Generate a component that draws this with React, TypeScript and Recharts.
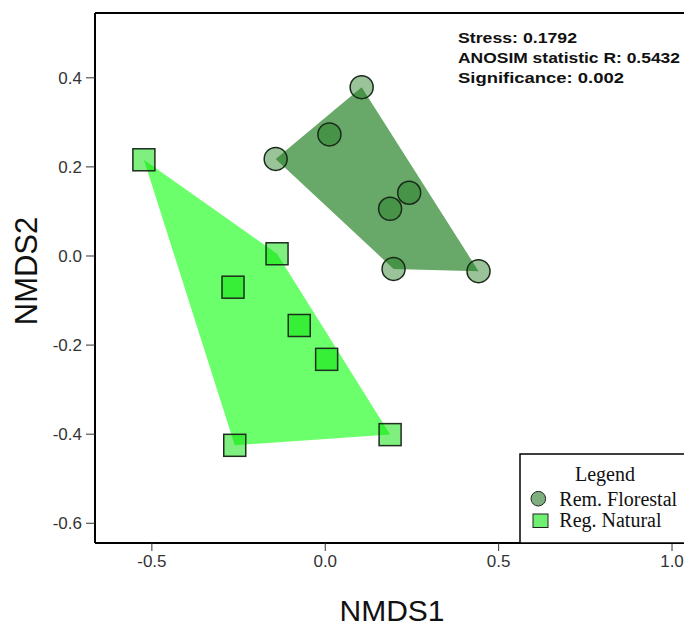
import React from 'react';
import { ScatterChart, Scatter, XAxis, YAxis, ReferenceLine } from 'recharts';

// Rem. Florestal (circles)
const remX = [0.105, 0.012, -0.143, 0.242, 0.187, 0.197, 0.442];
const remY = [0.379, 0.273, 0.218, 0.142, 0.106, -0.029, -0.034];
const remHull = [0, 6, 5, 2];
// Reg. Natural (squares)
const regX = [-0.523, -0.139, -0.266, -0.075, 0.004, -0.261, 0.187];
const regY = [0.216, 0.005, -0.07, -0.156, -0.232, -0.425, -0.401];
const regHull = [0, 1, 6, 5];

const xTicks = [-0.5, 0, 0.5, 1.0];
const yTicks = [-0.6, -0.4, -0.2, 0, 0.2, 0.4];
const xDomain = [-0.664, 1.098];
const yDomain = [-0.6443, 0.5455];

const statLines = ['Stress: 0.1792', 'ANOSIM statistic R: 0.5432', 'Significance: 0.002'];
const legendTitle = 'Legend';
const seriesNames = ['Rem. Florestal', 'Reg. Natural'];

const remData = remX.map((x, i) => ({ x, y: remY[i] }));
const regData = regX.map((x, i) => ({ x, y: regY[i] }));
const remHullData = remHull.map((i) => remData[i]);
const regHullData = regHull.map((i) => regData[i]);

const hullLine = (fill: string) => (p: any) => {
  const pts = (p.points || []) as { x: number; y: number }[];
  const d = pts.map((q, i) => `${i === 0 ? 'M' : 'L'}${q.x},${q.y}`).join(' ') + ' Z';
  return <path d={d} fill={fill} stroke="none" />;
};
const noShape = () => <g />;

const circleShape = (p: any) => (
  <circle cx={p.cx} cy={p.cy} r={11.5} fill="#1e7a1e" fillOpacity={0.45} stroke="#1a2a1a" strokeWidth={1.5} />
);
const squareShape = (p: any) => (
  <rect x={p.cx - 11} y={p.cy - 11} width={22} height={22} fill="#00e000" fillOpacity={0.5} stroke="#1e2e1e" strokeWidth={1.5} />
);

const sans = '"Liberation Sans", Arial, sans-serif';
const serif = '"Liberation Serif", "Times New Roman", serif';
const tickStyle = { fontSize: 17, fill: '#333', fontFamily: sans };

export default function App() {
  return (
    <div style={{ position: 'fixed', left: 0, top: 0, width: 684, height: 628, overflow: 'hidden', background: '#fff' }}>
      <ScatterChart width={720} height={628} margin={{ top: 13, right: 14, bottom: 45, left: 0 }}>
        <XAxis
          type="number"
          dataKey="x"
          domain={xDomain}
          ticks={xTicks}
          allowDataOverflow
          tickFormatter={(v: number) => v.toFixed(1)}
          axisLine={{ stroke: '#000', strokeWidth: 2 }}
          tickLine={{ stroke: '#333' }}
          tickSize={8}
          tickMargin={4}
          tick={tickStyle}
          height={40}
        />
        <YAxis
          type="number"
          dataKey="y"
          domain={yDomain}
          ticks={yTicks}
          allowDataOverflow
          tickFormatter={(v: number) => v.toFixed(1)}
          axisLine={{ stroke: '#000', strokeWidth: 2 }}
          tickLine={{ stroke: '#333' }}
          tickSize={9}
          tickMargin={4}
          tick={tickStyle}
          width={95}
        />
        <ReferenceLine y={yDomain[1]} stroke="#000" strokeWidth={2} ifOverflow="visible" />
        <Scatter data={remHullData} line={hullLine('#68a868')} lineType="joint" shape={noShape} isAnimationActive={false} />
        <Scatter data={regHullData} line={hullLine('#6cff6c')} lineType="joint" shape={noShape} isAnimationActive={false} />
        <Scatter name={seriesNames[0]} data={remData} shape={circleShape} isAnimationActive={false} />
        <Scatter name={seriesNames[1]} data={regData} shape={squareShape} isAnimationActive={false} />
      </ScatterChart>
      <svg width={684} height={628} style={{ position: 'absolute', left: 0, top: 0, pointerEvents: 'none' }}>
        <text x={458} y={42.7} fontFamily={sans} fontWeight="bold" fontSize={15} fill="#111" textLength={119} lengthAdjust="spacingAndGlyphs">{statLines[0]}</text>
        <text x={458} y={62.5} fontFamily={sans} fontWeight="bold" fontSize={15} fill="#111" textLength={222} lengthAdjust="spacingAndGlyphs">{statLines[1]}</text>
        <text x={458} y={82.7} fontFamily={sans} fontWeight="bold" fontSize={15} fill="#111" textLength={166} lengthAdjust="spacingAndGlyphs">{statLines[2]}</text>
        <text transform="translate(37,271) rotate(-90)" textAnchor="middle" fontFamily={sans} fontSize={31} fill="#111">NMDS2</text>
        <text x={392} y={621} textAnchor="middle" fontFamily={sans} fontSize={30} fill="#111">NMDS1</text>
        <rect x={520} y={454} width={200} height={89} fill="#fff" stroke="#000" strokeWidth={1.5} />
        <text x={605} y={481} textAnchor="middle" fontFamily={serif} fontSize={20} fill="#111">{legendTitle}</text>
        <circle cx={538.3} cy={498.7} r={7.3} fill="#7fae7f" stroke="#222" strokeWidth={1} />
        <text x={559.3} y={505.7} fontFamily={serif} fontSize={20} fill="#111">{seriesNames[0]}</text>
        <rect x={533} y={514} width={15} height={13.5} fill="#70f070" stroke="#222" strokeWidth={1} />
        <text x={559.3} y={527.3} fontFamily={serif} fontSize={20} fill="#111">{seriesNames[1]}</text>
      </svg>
    </div>
  );
}
